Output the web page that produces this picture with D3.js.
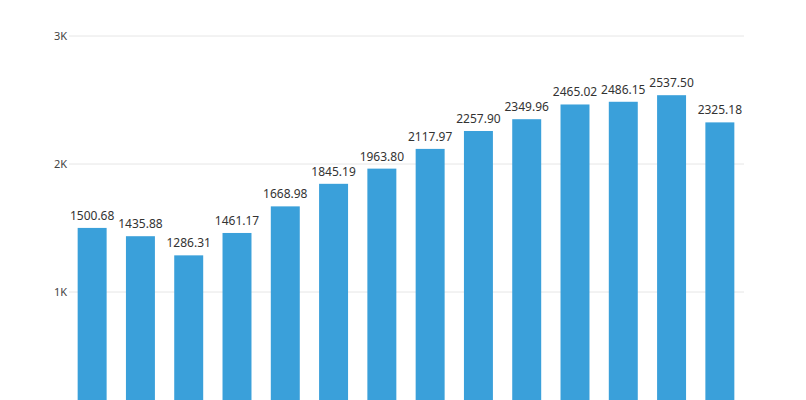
<!DOCTYPE html>
<html>
<head>
<meta charset="utf-8">
<script src="https://cdn.jsdelivr.net/npm/d3@7"></script>
<style>
  html, body { margin: 0; padding: 0; background: #fff; }
  svg { display: block; font-family: "Noto Sans", "Segoe UI", sans-serif; }
</style>
</head>
<body>
<svg id="chart" width="806" height="400"></svg>
<script>
const categories = ["1","2","3","4","5","6","7","8","9","10","11","12","13","14"];
const values = [1500.68, 1435.88, 1286.31, 1461.17, 1668.98, 1845.19, 1963.80, 2117.97, 2257.90, 2349.96, 2465.02, 2486.15, 2537.50, 2325.18];
const tickValues = [1000, 2000, 3000];
const tickLabels = ["1K", "2K", "3K"];

const svg = d3.select("#chart");
const x = d3.scaleBand().domain(categories).range([68, 744]).paddingInner(0.4).paddingOuter(0.2);
const y = d3.scaleLinear().domain([0, 3000]).range([420, 36]);

// gridlines
svg.append("g").selectAll("line").data(tickValues).join("line")
  .attr("x1", 69).attr("x2", 744)
  .attr("y1", d => y(d)).attr("y2", d => y(d))
  .attr("stroke", "#e6e6e6").attr("stroke-width", 1);

// y axis labels
const yAxis = d3.axisLeft(y).tickValues(tickValues).tickSize(0).tickPadding(0)
  .tickFormat((d, i) => tickLabels[i]);
const ga = svg.append("g").attr("transform", "translate(67,0)").call(yAxis);
ga.select(".domain").remove();
ga.selectAll("text").attr("fill", "#444").style("font-size", "11px").style("font-family", "'Noto Sans', sans-serif");

// bars
svg.append("g").selectAll("rect").data(values).join("rect")
  .attr("x", (d, i) => x(categories[i]))
  .attr("width", x.bandwidth())
  .attr("y", d => y(d))
  .attr("height", d => y(0) - y(d))
  .attr("fill", "#3aa0da");

// value labels
svg.append("g").selectAll("text").data(values).join("text")
  .attr("x", (d, i) => x(categories[i]) + x.bandwidth() / 2)
  .attr("y", d => y(d) - 8)
  .attr("text-anchor", "middle")
  .attr("fill", "#333")
  .style("font-size", "12px")
  .text(d => d.toFixed(2));
</script>
</body>
</html>
